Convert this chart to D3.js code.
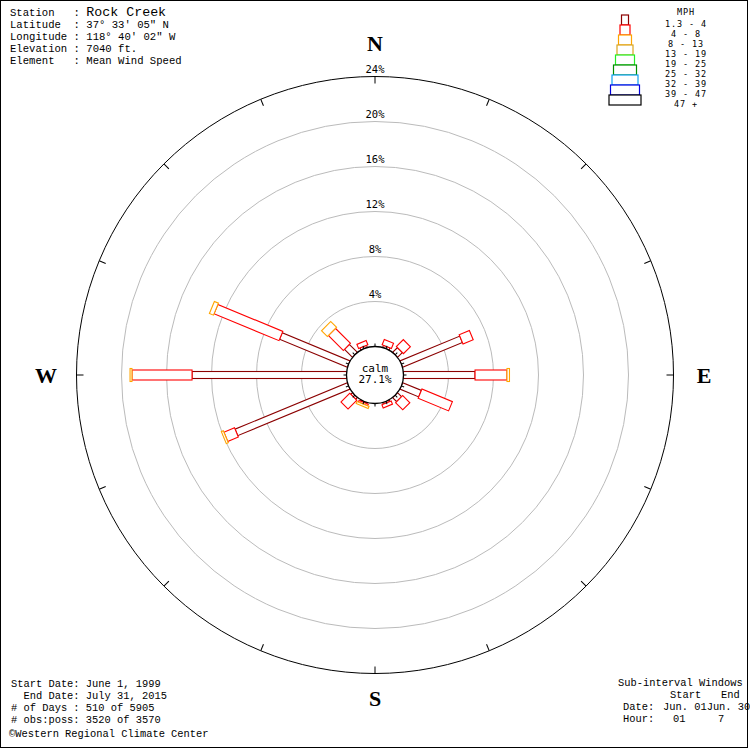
<!DOCTYPE html>
<html><head><meta charset="utf-8">
<script src="https://cdn.jsdelivr.net/npm/d3@7/dist/d3.min.js"></script>
<style>body{margin:0;background:#fff}svg{display:block}text{white-space:pre}</style>
</head><body><svg id="chart" width="750" height="750"></svg>
<script>
// ---------------- DATA ----------------
const directions = ["N","NNE","NE","ENE","E","ESE","SE","SSE","S","SSW","SW","WSW","W","WNW","NW","NNW"];
const speedClasses = ["1.3 - 4","4 - 8","8 - 13","13 - 19","19 - 25","25 - 32","32 - 39","39 - 47","47 +"];
const classColors = ["#8b0000","#ff0000","#ffa500","#daa520","#22ee22","#008c00","#10a0f0","#0000e0","#000000"];
// percent frequency per direction for each speed class
const pct_1_4   = [0, 0.2, 0.6, 5.75, 6.36, 1.8, 0.5, 0.15, 0, 0.1, 0.2, 10.8, 13.73, 6.52, 1.0, 0.2];
const pct_4_8   = [0, 0.5, 0.87, 0.98, 2.84, 2.93, 0.9, 0.3, 0, 0.15, 1.1, 1.02, 5.34, 6.25, 1.88, 0.4];
const pct_8_13  = [0, 0, 0, 0, 0.22, 0, 0, 0, 0, 0.2, 0, 0.19, 0.17, 0.39, 0.73, 0];
const pct_13_19 = [0,0,0,0,0,0,0,0,0,0,0,0,0,0,0,0];
const pct_19_25 = [0,0,0,0,0,0,0,0,0,0,0,0,0,0,0,0];
const pct_25_32 = [0,0,0,0,0,0,0,0,0,0,0,0,0,0,0,0];
const pct_32_39 = [0,0,0,0,0,0,0,0,0,0,0,0,0,0,0,0];
const pct_39_47 = [0,0,0,0,0,0,0,0,0,0,0,0,0,0,0,0];
const pct_47up  = [0,0,0,0,0,0,0,0,0,0,0,0,0,0,0,0];
const ringTicks = [4, 8, 12, 16, 20, 24];
const calmPct = 27.1;
const headerLabels = ["Station   : ","Latitude  : ","Longitude : ","Elevation : ","Element   : "];
const headerValues = ["Rock Creek","37° 33' 05\" N","118° 40' 02\" W","7040 ft.","Mean Wind Speed"];
const footerLines = ["Start Date: June 1, 1999","  End Date: July 31, 2015","# of Days : 510 of 5905","# obs:poss: 3520 of 3570"];
const compass = ["N","E","S","W"];

// ---------------- DRAW ----------------
const classSeries = [pct_1_4,pct_4_8,pct_8_13,pct_13_19,pct_19_25,pct_25_32,pct_32_39,pct_39_47,pct_47up];
const classWidths = [7,10,13,16,19,23,26,29,32];
const svg = d3.select("#chart");
const cx = 375, cy = 375;
const r = d3.scaleLinear().domain([0,24]).range([28.5,298.5]);
const ang = d3.scalePoint().domain(directions).range([0, 337.5]);

svg.append("rect").attr("x",0.5).attr("y",0.5).attr("width",747).attr("height",747)
  .attr("fill","#fff").attr("stroke","#000");

const g = svg.append("g").attr("transform",`translate(${cx},${cy})`);

// rings
ringTicks.forEach(t=>{
  g.append("circle").attr("r",r(t)).attr("fill","none")
   .attr("stroke", t===24 ? "#000" : "#bbb").attr("stroke-width",1);
  g.append("text").attr("x",0).attr("y",-r(t)-4).attr("text-anchor","middle")
   .attr("font-family","DejaVu Sans Mono").attr("font-size",10.5).text(t+"%");
});
// outer ticks
directions.forEach(d=>{
  g.append("line").attr("transform",`rotate(${ang(d)})`)
   .attr("x1",0).attr("x2",0).attr("y1",-r(24)).attr("y2",-r(24)+7).attr("stroke","#000");
});

// petals
const stacked = directions.map((d,i)=>{
  let cum = 0; const segs=[];
  classSeries.forEach((s,k)=>{ const v=s[i]; if(v>0){ segs.push({k,from:cum,to:cum+v}); } cum+=v; });
  return {d,segs};
});
stacked.forEach(p=>{
  const pg = g.append("g").attr("transform",`rotate(${ang(p.d)})`);
  p.segs.forEach(s=>{
    const w = classWidths[s.k];
    pg.append("rect").attr("x",-w/2).attr("y",-r(s.to))
      .attr("width",w).attr("height",Math.max(0.5,r(s.to)-r(s.from)))
      .attr("fill","#fff").attr("stroke",classColors[s.k]).attr("stroke-width",1.1);
  });
});

// calm circle
g.append("circle").attr("r",r(0)).attr("fill","#fff").attr("stroke","#000").attr("stroke-width",1.3);
directions.forEach(d=>{
  g.append("line").attr("transform",`rotate(${ang(d)})`)
   .attr("x1",0).attr("x2",0).attr("y1",-r(0)).attr("y2",-r(0)-3).attr("stroke","#000");
});
g.append("text").attr("y",-3.5).attr("text-anchor","middle").attr("font-family","DejaVu Sans Mono")
  .attr("font-size",11).text("calm");
g.append("text").attr("y",8).attr("text-anchor","middle").attr("font-family","DejaVu Sans Mono")
  .attr("font-size",11).text(calmPct.toFixed(1)+"%");

// compass letters
const compassPos = {N:[375,51],E:[704,383],S:[375,706],W:[46,383]};
compass.forEach(c=>{
  svg.append("text").attr("x",compassPos[c][0]).attr("y",compassPos[c][1]).attr("text-anchor","middle")
   .attr("font-family","Liberation Serif").attr("font-weight","bold").attr("font-size",22).text(c);
});

// header
headerLabels.forEach((l,i)=>{
  const t = svg.append("text").attr("x",10).attr("y",16+i*12)
    .attr("font-family","Liberation Mono").attr("font-size",10.6);
  t.append("tspan").text(l);
  t.append("tspan").attr("font-size", i===0?13.3:10.6).text(headerValues[i]);
});

// footer left
footerLines.forEach((l,i)=>{
  svg.append("text").attr("x",11).attr("y",687+i*12)
   .attr("font-family","Liberation Mono").attr("font-size",10.4).text(l);
});
svg.append("text").attr("x",9).attr("y",737).attr("font-family","Liberation Mono")
  .attr("font-size",10.4).text("©Western Regional Climate Center");

// footer right
const fr = svg.append("g").attr("font-family","Liberation Mono").attr("font-size",10.4);
fr.append("text").attr("x",618).attr("y",686).text("Sub-interval Windows");
fr.append("text").attr("x",670).attr("y",698).text("Start");
fr.append("text").attr("x",721).attr("y",698).text("End");
fr.append("text").attr("x",623).attr("y",710).text("Date:");
fr.append("text").attr("x",663).attr("y",710).text("Jun. 01Jun. 30");
fr.append("text").attr("x",623).attr("y",722).text("Hour:");
fr.append("text").attr("x",673).attr("y",722).text("01");
fr.append("text").attr("x",718).attr("y",722).text("7");

// legend
const lg = svg.append("g").attr("font-family","DejaVu Sans Mono").attr("font-size",8.5)
  .attr("letter-spacing",0.9);
lg.append("text").attr("x",686).attr("y",15).attr("text-anchor","middle").text("MPH");
speedClasses.forEach((s,k)=>{
  const w = classWidths[k];
  lg.append("rect").attr("x",625-w/2).attr("y",15+k*10).attr("width",w).attr("height",10)
    .attr("fill","#fff").attr("stroke",classColors[k]).attr("stroke-width",1.2);
  lg.append("text").attr("x",686).attr("y",26.5+k*10).attr("text-anchor","middle").text(s);
});
</script></body></html>
